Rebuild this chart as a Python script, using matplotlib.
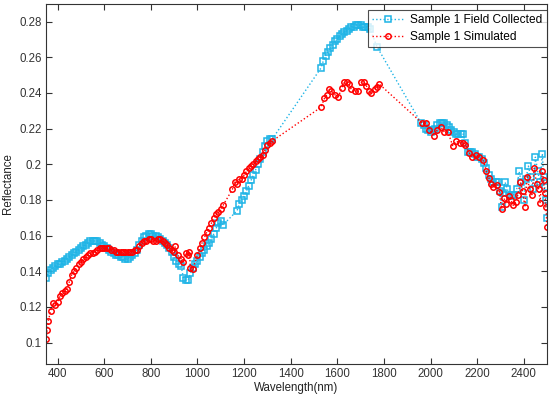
import numpy as np
import matplotlib
matplotlib.use('Agg')
import matplotlib.pyplot as plt

plt.rcParams['font.family'] = ['Liberation Sans', 'DejaVu Sans']

# Sample 1 field collected spectrum (wavelength nm, reflectance)
field_wl = [350, 360, 370, 380, 390, 400, 410, 420, 430, 440, 450, 460, 470, 480, 490,
            500, 510, 520, 530, 540, 550, 560, 570, 580, 590, 600, 610, 620, 630, 640,
            650, 660, 670, 680, 690, 700, 710, 720, 730, 740, 750, 760, 770, 780, 790,
            800, 810, 820, 830, 840, 850, 860, 870, 880, 890, 900, 910, 920, 930, 940,
            950, 960, 970, 980, 990, 1000, 1010, 1020, 1030, 1040, 1050, 1060, 1070, 1080,
            1090, 1100, 1110, 1170, 1180, 1190, 1200, 1210, 1220, 1230, 1240, 1250, 1260,
            1270, 1280, 1290, 1300, 1310, 1320, 1530, 1540, 1550, 1560, 1570, 1580, 1590,
            1600, 1610, 1620, 1630, 1640, 1650, 1660, 1670, 1680, 1690, 1700, 1710, 1720,
            1730, 1740, 1770, 1960, 1970, 1980, 1990, 2000, 2010, 2020, 2030, 2040, 2050,
            2060, 2070, 2080, 2090, 2100, 2110, 2120, 2130, 2140, 2150, 2160, 2170, 2180,
            2190, 2200, 2210, 2220, 2230, 2240, 2250, 2260, 2270, 2280, 2290, 2300, 2305,
            2310, 2320, 2330, 2340, 2350, 2360, 2370, 2380, 2390, 2400, 2410, 2420, 2430,
            2440, 2450, 2460, 2470, 2480, 2485, 2490, 2495, 2500]
field_refl = [0.136, 0.139, 0.141, 0.142, 0.143, 0.144, 0.144, 0.145, 0.146, 0.147, 0.148,
              0.149, 0.150, 0.151, 0.152, 0.153, 0.154, 0.155, 0.156, 0.157, 0.157, 0.157,
              0.157, 0.156, 0.155, 0.154, 0.153, 0.152, 0.151, 0.150, 0.149, 0.149, 0.148,
              0.148, 0.147, 0.147, 0.148, 0.149, 0.150, 0.152, 0.155, 0.157, 0.159, 0.160,
              0.161, 0.161, 0.160, 0.160, 0.159, 0.158, 0.157, 0.156, 0.155, 0.153, 0.151,
              0.148, 0.146, 0.144, 0.143, 0.136, 0.135, 0.135, 0.139, 0.142, 0.144, 0.146,
              0.148, 0.150, 0.152, 0.154, 0.156, 0.158, 0.161, 0.164, 0.167, 0.168, 0.166,
              0.174, 0.178, 0.180, 0.182, 0.185, 0.188, 0.191, 0.194, 0.197, 0.200, 0.203,
              0.207, 0.210, 0.213, 0.214, 0.214, 0.254, 0.258, 0.261, 0.263, 0.265, 0.267,
              0.269, 0.270, 0.272, 0.273, 0.274, 0.275, 0.276, 0.277, 0.277, 0.278, 0.278,
              0.278, 0.277, 0.277, 0.277, 0.276, 0.266, 0.223, 0.222, 0.220, 0.219, 0.218,
              0.219, 0.220, 0.222, 0.223, 0.223, 0.223, 0.222, 0.221, 0.219, 0.218, 0.217,
              0.217, 0.217, 0.217, 0.212, 0.207, 0.207, 0.207, 0.206, 0.204, 0.204, 0.203,
              0.201, 0.198, 0.194, 0.192, 0.190, 0.190, 0.190, 0.185, 0.176, 0.184, 0.190,
              0.186, 0.182, 0.183, 0.183, 0.186, 0.196, 0.190, 0.180, 0.192, 0.199, 0.193,
              0.186, 0.204, 0.196, 0.190, 0.206, 0.193, 0.187, 0.180, 0.170]

# Sample 1 simulated spectrum
sim_wl = [350, 355, 360, 370, 380, 390, 400, 410, 420, 430, 440, 450, 460, 470, 480, 490,
          500, 510, 520, 530, 540, 550, 560, 570, 580, 590, 600, 610, 620, 630, 640, 650,
          660, 670, 680, 690, 700, 710, 720, 730, 740, 750, 760, 770, 780, 790, 800, 810,
          820, 830, 840, 850, 860, 870, 880, 890, 900, 905, 915, 930, 940, 950, 960, 965,
          970, 980, 1000, 1010, 1020, 1030, 1040, 1050, 1060, 1070, 1080, 1090, 1100, 1110,
          1150, 1160, 1170, 1180, 1190, 1200, 1210, 1220, 1230, 1240, 1250, 1260, 1270,
          1280, 1290, 1300, 1310, 1320, 1530, 1545, 1555, 1565, 1575, 1590, 1605, 1620,
          1630, 1640, 1650, 1660, 1675, 1690, 1700, 1715, 1725, 1735, 1745, 1760, 1770,
          1780, 1965, 1980, 1995, 2015, 2030, 2045, 2060, 2075, 2095, 2110, 2125, 2140,
          2150, 2165, 2180, 2195, 2210, 2225, 2240, 2250, 2260, 2270, 2285, 2295, 2305,
          2315, 2325, 2335, 2345, 2355, 2365, 2375, 2385, 2395, 2405, 2415, 2425, 2435,
          2445, 2455, 2465, 2470, 2480, 2485, 2490, 2495, 2500]
sim_refl = [0.102, 0.107, 0.112, 0.118, 0.122, 0.121, 0.123, 0.126, 0.128, 0.129, 0.130,
            0.134, 0.138, 0.140, 0.142, 0.144, 0.145, 0.147, 0.148, 0.149, 0.150, 0.150,
            0.151, 0.152, 0.153, 0.153, 0.153, 0.153, 0.153, 0.152, 0.152, 0.151, 0.151,
            0.151, 0.151, 0.151, 0.151, 0.151, 0.151, 0.152, 0.152, 0.154, 0.156, 0.157,
            0.157, 0.158, 0.158, 0.157, 0.157, 0.158, 0.158, 0.157, 0.156, 0.155, 0.153,
            0.152, 0.151, 0.154, 0.149, 0.147, 0.145, 0.150, 0.149, 0.151, 0.142, 0.1415,
            0.149, 0.153, 0.156, 0.159, 0.162, 0.164, 0.167, 0.170, 0.172, 0.173, 0.175,
            0.177, 0.186, 0.190, 0.189, 0.192, 0.192, 0.194, 0.196, 0.198, 0.199, 0.200,
            0.202, 0.203, 0.204, 0.205, 0.208, 0.211, 0.212, 0.213, 0.232, 0.237, 0.239,
            0.242, 0.241, 0.239, 0.238, 0.243, 0.246, 0.246, 0.245, 0.242, 0.241, 0.241,
            0.246, 0.246, 0.244, 0.241, 0.240, 0.242, 0.2436, 0.245, 0.223, 0.223, 0.2195,
            0.216, 0.2195, 0.221, 0.218, 0.218, 0.2105, 0.213, 0.212, 0.212, 0.211, 0.2066,
            0.204, 0.205, 0.204, 0.2026, 0.196, 0.1925, 0.189, 0.187, 0.1886, 0.1847, 0.175,
            0.181, 0.178, 0.182, 0.180, 0.177, 0.179, 0.183, 0.190, 0.185, 0.176, 0.193,
            0.186, 0.183, 0.198, 0.189, 0.186, 0.1785, 0.196, 0.191, 0.184, 0.176, 0.165]

cyan = '#1eb4e6'
red = '#ff0000'

fig = plt.figure(figsize=(5.5, 3.98), dpi=100)
ax = fig.add_axes([0.0836, 0.0854, 0.911, 0.905])

ax.plot(field_wl, field_refl, linestyle=':', color=cyan, linewidth=1.0,
        marker='s', markersize=4.8, markerfacecolor='none', markeredgewidth=1.1,
        label='Sample 1 Field Collected')
ax.plot(sim_wl, sim_refl, linestyle=':', color=red, linewidth=1.0,
        marker='o', markersize=3.9, markerfacecolor='none', markeredgewidth=1.1,
        label='Sample 1 Simulated')

ax.set_xlim(350, 2500)
ax.set_ylim(0.088, 0.29)
ax.set_xticks(np.arange(400, 2401, 200))
ax.set_yticks(np.arange(0.10, 0.281, 0.02))
ax.yaxis.set_major_formatter(plt.FuncFormatter(lambda v, p: '%g' % round(v, 2)))

ax.tick_params(direction='in', top=True, right=True, length=4, width=0.8,
               labelsize=8.3, colors='#333333', pad=3)
for s in ax.spines.values():
    s.set_color('#333333')
    s.set_linewidth(0.8)

ax.set_xlabel('Wavelength(nm)', fontsize=8.3, color='#222222', labelpad=1)
ax.set_ylabel('Reflectance', fontsize=8.3, color='#222222', labelpad=4)

leg = ax.legend(loc='upper right', bbox_to_anchor=(0.999, 0.983), fontsize=8.6,
                frameon=True, fancybox=False, borderaxespad=0.0, handlelength=2.7,
                borderpad=0.35, labelspacing=0.4, handletextpad=0.5)
leg.get_frame().set_edgecolor('#222222')
leg.get_frame().set_linewidth(0.8)

fig.savefig('out.png', dpi=100)
